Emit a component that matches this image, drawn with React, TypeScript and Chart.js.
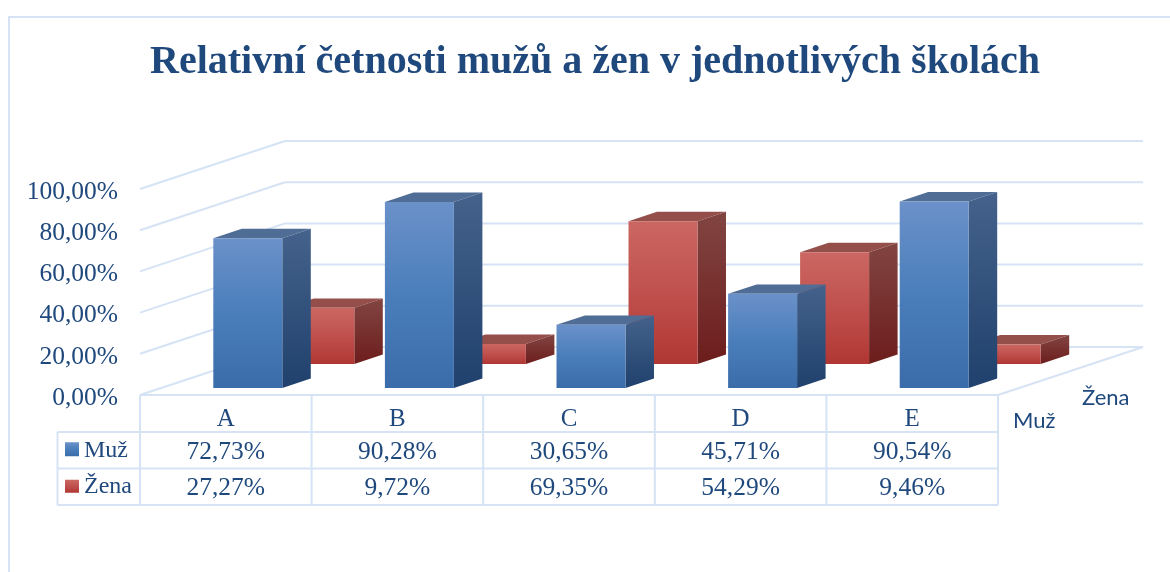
import React, { useEffect, useRef } from "react";
import { Chart, registerables } from "chart.js";

Chart.register(...registerables);

const categories = ["A", "B", "C", "D", "E"];
const seriesNames = ["Muž", "Žena"];
const muzValues = [72.73, 90.28, 30.65, 45.71, 90.54];
const zenaValues = [27.27, 9.72, 69.35, 54.29, 9.46];
const titleText = "Relativní četnosti mužů a žen v jednotlivých školách";

const NAVY = "#1F497D";
const LINE = "#D5E3F5";
const SERIF = "'Liberation Serif', serif";
const SANS = "Lato, sans-serif";

const WALL = { dx: 145, dy: -48 };
const BAR_DEPTH = { dx: 28.5, dy: -9.4 };
const ROW_SHIFT = [
  { dx: 22, dy: -7 },
  { dx: 94, dy: -31 },
];
const FACE = [
  { front: ["#6B91C9", "#4A7EBB", "#3A6CA9"], side: ["#44628B", "#20416D"], top: "#506D96" },
  { front: ["#CB6762", "#C0504D", "#B03733"], side: ["#824542", "#6C1D1C"], top: "#954F4B" },
];

const pct = (v: number) => v.toFixed(2).replace(".", ",") + "%";

const poly = (ctx: CanvasRenderingContext2D, pts: number[][], fill: string | CanvasGradient) => {
  ctx.beginPath();
  pts.forEach((p, i) => (i ? ctx.lineTo(p[0], p[1]) : ctx.moveTo(p[0], p[1])));
  ctx.closePath();
  ctx.fillStyle = fill;
  ctx.fill();
};

const line = (ctx: CanvasRenderingContext2D, x1: number, y1: number, x2: number, y2: number) => {
  ctx.beginPath();
  ctx.moveTo(x1, y1);
  ctx.lineTo(x2, y2);
  ctx.stroke();
};

const swatch = (ctx: CanvasRenderingContext2D, x: number, y: number, s: number, h: number, series: number) => {
  const g = ctx.createLinearGradient(0, y, 0, y + h);
  FACE[series].front.forEach((c, i) => g.addColorStop(i / 2, c));
  ctx.fillStyle = g;
  ctx.fillRect(x, y, s, h);
};

const bars3d = {
  id: "bars3d",
  beforeDatasetsDraw(chart: any) {
    const { ctx, chartArea, scales } = chart;
    const { left, right } = chartArea;
    ctx.save();
    ctx.strokeStyle = LINE;
    ctx.lineWidth = 2;
    // outer frame
    line(ctx, 9, 17, 1170, 17);
    line(ctx, 9, 16, 9, 572);
    // walls and floor
    scales.y.ticks.forEach((t: any) => {
      const y = scales.y.getPixelForValue(t.value);
      line(ctx, left, y, left + WALL.dx, y + WALL.dy);
      line(ctx, left + WALL.dx, y + WALL.dy, right + WALL.dx, y + WALL.dy);
    });
    const y0 = scales.y.getPixelForValue(0);
    line(ctx, right, y0, right + WALL.dx, y0 + WALL.dy);
    ctx.restore();
  },
  beforeDatasetDraw(chart: any, args: any) {
    const { ctx } = chart;
    const s = args.index;
    const shift = ROW_SHIFT[s];
    const style = FACE[s];
    ctx.save();
    chart.getDatasetMeta(s).data.forEach((el: any) => {
      const l = el.x - el.width / 2 + shift.dx;
      const r = el.x + el.width / 2 + shift.dx;
      const t = el.y + shift.dy;
      const b = el.base + shift.dy;
      const { dx, dy } = BAR_DEPTH;
      const fg = ctx.createLinearGradient(0, t, 0, b);
      style.front.forEach((c, i) => fg.addColorStop(i / 2, c));
      const sg = ctx.createLinearGradient(0, t + dy, 0, b);
      style.side.forEach((c, i) => sg.addColorStop(i, c));
      poly(ctx, [[l, t], [l + dx, t + dy], [r + dx, t + dy], [r, t]], style.top);
      poly(ctx, [[r, t], [r + dx, t + dy], [r + dx, b + dy], [r, b]], sg);
      poly(ctx, [[l, t], [r, t], [r, b], [l, b]], fg);
    });
    ctx.restore();
    return false;
  },
  afterDraw(chart: any) {
    const { ctx, chartArea, scales, data } = chart;
    const { left, right, bottom } = chartArea;
    const rowY = [432, 468.5, 505];
    const tableLeft = 57.5;
    ctx.save();
    ctx.strokeStyle = LINE;
    ctx.lineWidth = 2;
    line(ctx, left, bottom, right, bottom);
    line(ctx, left, bottom, left, rowY[2]);
    rowY.forEach((y) => line(ctx, tableLeft, y, right, y));
    line(ctx, tableLeft, rowY[0], tableLeft, rowY[2]);
    categories.forEach((_, i) => {
      const x = i === categories.length - 1 ? right : (scales.x.getPixelForTick(i) + scales.x.getPixelForTick(i + 1)) / 2;
      line(ctx, x, bottom, x, rowY[2]);
    });
    ctx.fillStyle = NAVY;
    ctx.textBaseline = "middle";
    seriesNames.forEach((name, s) => {
      const cy = (rowY[s] + rowY[s + 1]) / 2 + 1;
      swatch(ctx, 65, s === 0 ? cy - 9 : cy - 8, 14, s === 0 ? 14 : 13, s);
      ctx.fillStyle = NAVY;
      ctx.font = `24px ${SERIF}`;
      ctx.textAlign = "left";
      ctx.fillText(name, 84, cy - 1);
      ctx.font = `25.5px ${SERIF}`;
      ctx.textAlign = "center";
      data.datasets[s].data.forEach((v: number, i: number) => {
        ctx.fillText(pct(v), scales.x.getPixelForTick(i), cy + 1);
      });
    });
    // depth axis labels
    ctx.font = `22px ${SANS}`;
    ctx.textAlign = "left";
    ctx.fillText(seriesNames[0], 1013, 421);
    ctx.fillText(seriesNames[1], 1082, 398);
    ctx.restore();
  },
};

export default function App() {
  const ref = useRef<HTMLCanvasElement>(null);
  useEffect(() => {
    const chart = new Chart(ref.current!, {
      type: "bar",
      data: {
        labels: categories,
        datasets: [
          { label: seriesNames[0], data: muzValues, backgroundColor: "#4A7EBB", grouped: false, barPercentage: 0.402, categoryPercentage: 1 },
          { label: seriesNames[1], data: zenaValues, backgroundColor: "#C0504D", grouped: false, barPercentage: 0.402, categoryPercentage: 1 },
        ],
      } as any,
      plugins: [bars3d],
      options: {
        responsive: false,
        animation: false,
        layout: { padding: { left: 20, right: 0, top: 0, bottom: 0 } },
        plugins: {
          legend: { display: false },
          tooltip: { enabled: false },
          title: {
            display: true,
            text: titleText,
            color: NAVY,
            font: { family: SERIF, size: 40, weight: "bold" },
            padding: { top: 39, bottom: 102 },
          },
        },
        scales: {
          x: {
            grid: { display: false },
            border: { display: false },
            ticks: { color: NAVY, font: { family: SERIF, size: 25 }, padding: 1, maxRotation: 0 },
            afterFit: (s: any) => { s.height = 177; },
          },
          y: {
            min: 0,
            max: 100,
            grid: { display: false },
            border: { display: false },
            ticks: { stepSize: 20, color: NAVY, font: { family: SERIF, size: 25.5 }, padding: 14, labelOffset: 3, callback: (v: any) => pct(Number(v)) },
            afterFit: (s: any) => { s.width = 120; },
          },
          depth: {
            axis: "y",
            position: "right",
            grid: { display: false },
            border: { display: false },
            ticks: { display: false },
            afterFit: (s: any) => { s.width = 172; },
          },
        },
      } as any,
    });
    return () => chart.destroy();
  }, []);
  return <canvas ref={ref} width={1170} height={572} style={{ position: "fixed", left: 0, top: 0, display: "block" }} />;
}
